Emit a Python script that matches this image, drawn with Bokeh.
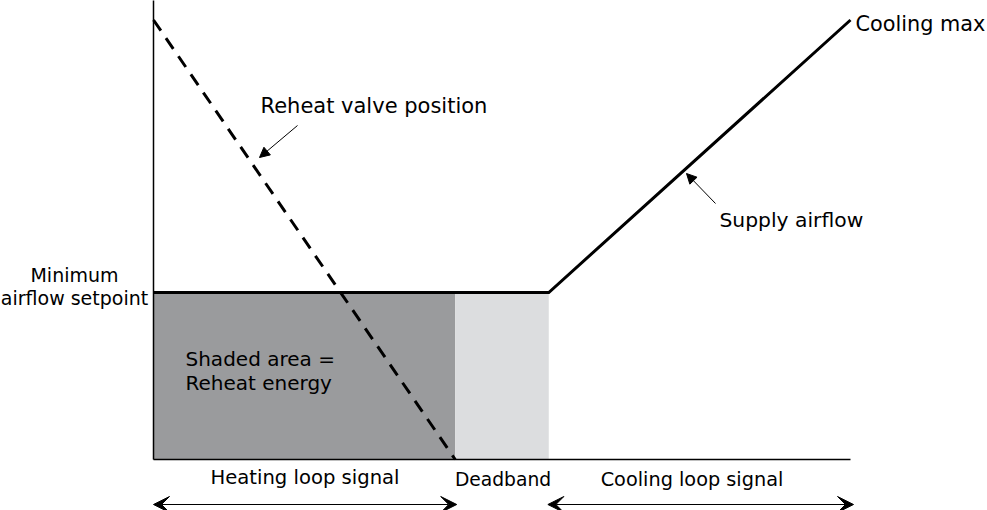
from bokeh.plotting import figure
from bokeh.models import Range1d, Arrow, NormalHead, VeeHead, ColumnDataSource
from bokeh.core.properties import value
from bokeh.embed import file_html
from bokeh.resources import INLINE

# ---- data (x: control loop signal, y: airflow as % of cooling max) ----
heating_range = [0, 100]
deadband_range = [100, 131]
cooling_range = [131, 231]
min_airflow = 38
cooling_max = 100
supply_x = [0, 131, 231]
supply_y = [38, 38, 100]
valve_x = [0, 100]
valve_y = [100, 0]

# ---- layout ----
W, H = 987, 510
X0_PX, Y0_PX = 153, 459          # pixel of the chart origin
SX = 697 / 231                    # px per x unit
SY = 439.5 / 100                  # px per y unit
XMIN = -X0_PX / SX
XMAX = XMIN + W / SX
YMAX = Y0_PX / SY
YMIN = YMAX - H / SY


def dx(px):
    return (px - X0_PX) / SX


def dy(py):
    return (Y0_PX - py) / SY


FONT = value("DejaVu Sans")

p = figure(width=W, height=H, output_backend="svg", toolbar_location=None,
           x_range=Range1d(XMIN, XMAX), y_range=Range1d(YMIN, YMAX),
           min_border=0)
p.xaxis.visible = False
p.yaxis.visible = False
p.xgrid.visible = False
p.ygrid.visible = False
p.outline_line_color = None
p.background_fill_color = "white"
p.border_fill_color = "white"

# shaded regions
p.quad(left=[heating_range[0]], right=[heating_range[1]], bottom=[0], top=[min_airflow],
       fill_color="#9a9b9d", line_color=None)
p.quad(left=[deadband_range[0]], right=[deadband_range[1]], bottom=[0], top=[min_airflow],
       fill_color="#dcdddf", line_color=None)

# axes lines
p.segment(x0=[0, 0], y0=[0, 0], x1=[0, cooling_range[1]], y1=[YMAX + 2, 0],
          line_color="black", line_width=1.5)

# reheat valve position (dashed)
p.line(valve_x, valve_y, line_color="black", line_width=3, line_dash="13 9")

# supply airflow
p.line(supply_x, supply_y, line_color="black", line_width=3, line_join="miter")

# pointer arrows
p.add_layout(Arrow(x_start=dx(297), y_start=dy(125), x_end=dx(259), y_end=dy(157),
                   line_width=1, line_color="black",
                   end=NormalHead(size=10, fill_color="black", line_color="black")))
p.add_layout(Arrow(x_start=dx(715), y_start=dy(203), x_end=dx(686), y_end=dy(173),
                   line_width=1, line_color="black",
                   end=NormalHead(size=10, fill_color="black", line_color="black")))

# range arrows below the axis
ARROW_PY = 504
for a, b in [(heating_range[0], heating_range[1] + 0.5), (cooling_range[0] - 0.3, cooling_range[1] + 1)]:
    p.add_layout(Arrow(x_start=a, y_start=dy(ARROW_PY), x_end=b, y_end=dy(ARROW_PY),
                       line_width=1.2, line_color="black",
                       start=VeeHead(size=16, fill_color="black", line_color="black", line_width=1),
                       end=VeeHead(size=16, fill_color="black", line_color="black", line_width=1)))

# texts
labels = ["Reheat valve position", "Cooling max", "Supply airflow",
          "Shaded area =", "Reheat energy",
          "Minimum", "airflow setpoint",
          "Heating loop signal", "Deadband", "Cooling loop signal"]
sizes = ["21px", "20.8px", "20.3px", "20px", "20px",
         "19px", "19px", "19.6px", "18.7px", "19.3px"]
aligns = ["left"] * 5 + ["center"] * 5
xs = [dx(260), dx(855), dx(719), dx(185), dx(185),
      dx(74), dx(74),
      dx(304.5), dx(502.5), dx(691.5)]
base_py = [113.5, 31.5, 227, 366, 390,
           282, 305, 485, 486.7, 486.5]
ys = [dy(v - 8) for v in base_py]

src = ColumnDataSource(dict(x=xs, y=ys, text=labels, size=sizes, align=aligns))
p.text(x="x", y="y", text="text", source=src, text_font=FONT, text_font_size="size",
       text_align="align", text_baseline="alphabetic", text_color="black")

open("out.html", "w").write(file_html(p, INLINE))
